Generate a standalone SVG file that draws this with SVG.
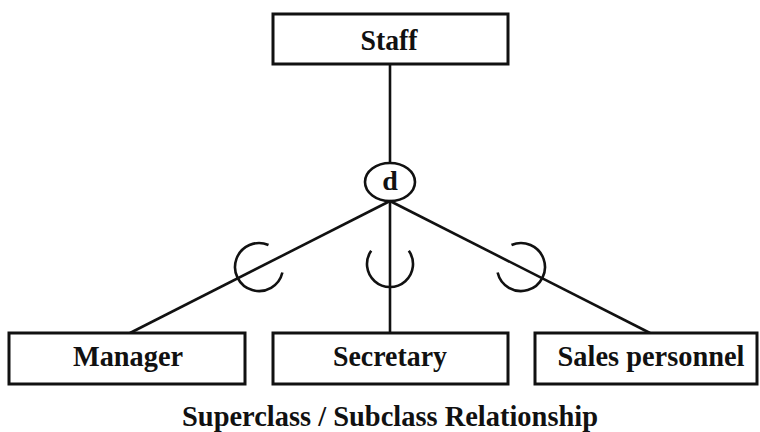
<svg xmlns="http://www.w3.org/2000/svg" width="760" height="432" viewBox="0 0 760 432">
<style>
.box{fill:#fff;stroke:#111;stroke-width:3}
.lbl{font-family:"Liberation Serif","Times New Roman",serif;font-weight:bold;font-size:30px;fill:#111;text-anchor:middle}
.ln{stroke:#111;stroke-width:2.6;fill:none}
</style>
<rect width="760" height="432" fill="#fff"/>
<g id="connectors">
<line class="ln" x1="390" y1="64" x2="390" y2="163"/>
<line class="ln" x1="390" y1="201" x2="130" y2="333"/>
<line class="ln" x1="390" y1="201" x2="390" y2="333"/>
<line class="ln" x1="390" y1="201" x2="650" y2="333"/>
<path class="ln" d="M268.5,245 A24,24 0 1 0 282.4,272.5"/>
<path class="ln" d="M408.8,250.8 A23,23 0 1 1 371.2,250.8"/>
<path class="ln" d="M511.5,245 A24,24 0 1 1 497.6,272.5"/>
</g>
<g id="staff">
<rect class="box" x="273" y="14" width="235" height="50"/>
<text class="lbl" x="389" y="50" textLength="57" lengthAdjust="spacingAndGlyphs">Staff</text>
</g>
<g id="disjoint">
<ellipse class="ln" cx="390" cy="182" rx="25" ry="19" fill="#fff"/>
<text class="lbl" x="390" y="190" style="font-size:28px">d</text>
</g>
<g id="manager">
<rect class="box" x="9" y="333" width="236" height="51"/>
<text class="lbl" x="128" y="366" textLength="110" lengthAdjust="spacingAndGlyphs">Manager</text>
</g>
<g id="secretary">
<rect class="box" x="273" y="333" width="235" height="51"/>
<text class="lbl" x="390" y="366" textLength="114" lengthAdjust="spacingAndGlyphs">Secretary</text>
</g>
<g id="sales">
<rect class="box" x="535" y="333" width="222" height="51"/>
<text class="lbl" x="651" y="366" textLength="187" lengthAdjust="spacingAndGlyphs">Sales personnel</text>
</g>
<g id="caption">
<text class="lbl" x="390" y="426" textLength="416" lengthAdjust="spacingAndGlyphs">Superclass / Subclass Relationship</text>
</g>
</svg>
